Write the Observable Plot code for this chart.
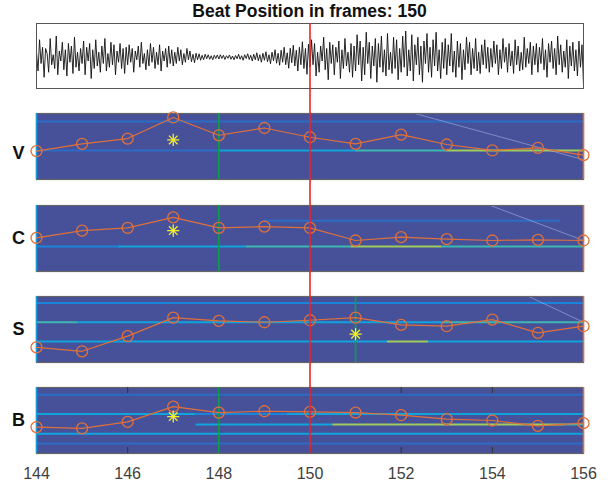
<!DOCTYPE html>
<html><head><meta charset="utf-8">
<script src="https://cdn.jsdelivr.net/npm/d3@7"></script>
<script src="https://cdn.jsdelivr.net/npm/@observablehq/plot@0.6"></script>
<style>
body{margin:0;background:#fff;}
#chart{position:relative;width:611px;height:484px;font-family:"Liberation Sans",Arial,sans-serif;}
#chart svg{position:absolute;left:0;top:0;}
#title{position:absolute;left:36px;width:547px;top:1px;line-height:20px;text-align:center;font-weight:bold;font-size:17.5px;color:#111;font-family:"Liberation Sans",Arial,sans-serif;}
</style></head><body>
<div id="chart"><div id="title"></div></div>
<script>
// ---------- data ----------
const beatFrame = 150;
const frames = [144,145,146,147,148,149,150,151,152,153,154,155,156];
const xTicks = [144,146,148,150,152,154,156];
const panelNames = ["V","C","S","B"];

// audio excerpt (30 samples per frame, 144 -> 156)
const waveform = [
 20,-55,70,-25,40,-80,35,15,-60,75,-30,10,-45,85,-70,25,-15,60,-50,30,-75,55,-20,45,-65,80,-40,20,-55,35,
 -25,65,-70,40,-15,55,-85,30,-45,70,-35,20,-60,45,-25,75,-55,15,-40,60,-30,50,-70,25,-20,55,-45,35,-65,40,
 -30,50,-20,35,-60,25,-10,45,-40,60,-25,15,-50,30,-35,55,-20,40,-45,20,-30,50,-55,25,-15,35,-40,45,-25,30,
 -35,20,-25,40,-15,30,-30,15,-20,35,-10,25,-18,12,-22,16,-10,14,-12,8,-10,12,-6,10,-8,6,-10,8,-5,9,
 -7,10,-5,8,-9,6,-4,9,-8,5,-10,7,-6,12,-8,6,-12,10,-5,14,-9,8,-15,12,-10,18,-14,10,-20,16,
 -12,22,-18,10,-26,20,-14,30,-24,16,-32,28,-20,40,-30,18,-44,36,-22,48,-35,28,-55,40,-30,62,-45,35,-68,52,
 -40,70,-30,55,-75,20,-60,45,-15,80,-50,35,-90,60,-25,50,-70,40,-20,65,-85,30,-45,75,-35,20,-60,55,-80,45,
 -55,90,-30,65,-95,40,-70,100,-25,60,-85,45,-35,75,-100,55,-40,85,-60,30,-75,95,-50,20,-65,80,-45,70,-90,35,
 -60,85,-40,105,-75,30,-55,90,-95,50,-30,80,-70,45,-100,65,-25,95,-60,40,-80,70,-35,100,-55,30,-85,60,-45,75,
 -70,50,-35,95,-60,25,-80,65,-40,55,-90,30,-50,80,-25,60,-70,35,-45,75,-55,20,-65,50,-30,70,-45,40,-60,35,
 -40,65,-25,50,-70,30,-45,75,-20,40,-60,55,-35,25,-65,70,-30,45,-55,20,-50,80,-40,35,-25,60,-70,45,-30,55,
 -60,40,-25,75,-50,30,-80,55,-20,65,-45,35,-70,85,-30,50,-60,25,-40,70,-85,45,-35,60,-55,30,-75,65,-40,50,
 -110
];
const samplesPerFrame = 30;

// novelty curves (normalised, 0 = bottom of panel, 1 = top)
const vValues = [0.43,0.54,0.62,0.94,0.67,0.78,0.64,0.54,0.68,0.53,0.44,0.48,0.37];
const cValues = [0.51,0.62,0.66,0.82,0.66,0.68,0.66,0.47,0.52,0.49,0.47,0.48,0.47];
const sValues = [0.23,0.17,0.40,0.68,0.63,0.61,0.64,0.68,0.57,0.55,0.65,0.45,0.55];
const bValues = [0.40,0.38,0.48,0.71,0.62,0.64,0.63,0.62,0.58,0.52,0.50,0.42,0.46];

// detected peak (asterisk) [frame, value]
const vPeak = [147, 0.60];
const cPeak = [147, 0.62];
const sPeak = [151, 0.43];
const bPeak = [147, 0.56];

// estimated onset (green line)
const vOnset = 148, cOnset = 148, sOnset = 151, bOnset = 148;

// background image rows: [value, fromFrame, toFrame, intensityLevel]
const vBands = [[0.88,144,156,1],[0.44,144,148,1],[0.44,148,151,3],[0.44,151,153,4],[0.44,153,156,5]];
const cBands = [[0.77,149,155.5,1],[0.38,144,145.8,2],[0.38,145.8,148.6,3],[0.38,148.6,150.9,4],[0.38,150.9,152.9,5],[0.38,152.9,156,4]];
const sBands = [[0.90,144,156,2],[0.61,144,144.9,4],[0.61,144.9,152.9,3],[0.61,152.9,156,4],[0.32,144,151.7,3],[0.32,151.7,152.6,5],[0.32,152.6,156,3]];
const bBands = [[0.89,144,156,1],[0.60,144,147.5,3],[0.60,147.5,149.5,2],[0.60,149.5,156,3],[0.44,147.5,150.5,3],[0.44,150.5,155.6,5],[0.44,155.6,156,4],[0.30,144,156,3],[0.15,144,156,1]];

// faint diagonal traces [frame1, value1, frame2, value2]
const vDiag = [152.3,1.0,156,0.30];
const cDiag = [153.96,1.0,156,0.47];
const sDiag = [154.8,1.0,156,0.61];
const bDiag = null;

// ---------- styles ----------
const levelColors = ["#3D5BAA","#2C6CC4","#1A84D8","#10A4DC","#3DB8B0","#A0CC5C"];
const bgColor = "#46519A";
const orange = "#E0703A";
const W = 611, H = 484, ML = 36, MR = 28;
const panelBoxes = [[113,179],[205,271],[296,362],[387,453]];
const waveBox = [23,88];
const labelDy = [7,0,0,0];

const chart = document.getElementById("chart");
document.getElementById("title").textContent = `Beat Position in frames: ${beatFrame}`;

function base(top, bottom, extra) {
  return Object.assign({
    width: W, height: H, marginLeft: ML, marginRight: MR,
    marginTop: top, marginBottom: H - bottom,
    x: {domain: [frames[0], frames[frames.length-1]], axis: null},
    y: {domain: [0, 1], axis: null},
    style: {background: "transparent", overflow: "visible", fontFamily: "Liberation Sans, Arial, sans-serif"}
  }, extra);
}

// waveform panel
chart.appendChild(Plot.plot(base(waveBox[0], waveBox[1], {
  y: {domain: [-125, 135], axis: null},
  marks: [
    Plot.line(waveform, {x: (d, i) => frames[0] + i / samplesPerFrame, y: d => d, stroke: "#111", strokeWidth: 0.9}),
    Plot.frame({stroke: "#555", strokeWidth: 1})
  ]
})));

const panels = [
  {name: panelNames[0], values: vValues, peak: vPeak, onset: vOnset, bands: vBands, diag: vDiag},
  {name: panelNames[1], values: cValues, peak: cPeak, onset: cOnset, bands: cBands, diag: cDiag},
  {name: panelNames[2], values: sValues, peak: sPeak, onset: sOnset, bands: sBands, diag: sDiag},
  {name: panelNames[3], values: bValues, peak: bPeak, onset: bOnset, bands: bBands, diag: bDiag}
];

panels.forEach((p, k) => {
  const [top, bottom] = panelBoxes[k];
  const isLast = k === panels.length - 1;
  const pts = frames.map((f, i) => ({x: f, y: p.values[i]}));
  const marks = [
    Plot.frame({fill: bgColor, stroke: null}),
    Plot.ruleY(p.bands, {y: d => d[0], x1: d => d[1], x2: d => d[2], stroke: d => levelColors[d[3]], strokeWidth: 2})
  ];
  if (p.diag) marks.push(Plot.link([p.diag], {x1: d => d[0], y1: d => d[1], x2: d => d[2], y2: d => d[3], stroke: "#A8BCE8", strokeWidth: 0.8, strokeOpacity: 0.7}));
  marks.push(Plot.frame({stroke: "#666", strokeWidth: 1.2}));
  if (isLast) {
    marks.push(Plot.ruleX(xTicks, {x: d => d, stroke: "#333", insetBottom: 60}));
    marks.push(Plot.ruleX(xTicks, {x: d => d, stroke: "#333", insetTop: 60}));
  }
  marks.push(
    Plot.ruleX([frames[0]], {x: d => d, stroke: "#1A9AD8", strokeWidth: 1.5}),
    Plot.ruleX([frames[frames.length-1]], {x: d => d, stroke: orange, strokeWidth: 1.5}),
    Plot.ruleX([p.onset], {x: d => d, stroke: "#0BA04A", strokeWidth: 1.6}),
    Plot.line(pts, {x: "x", y: "y", stroke: orange, strokeWidth: 1.2}),
    Plot.dot(pts, {x: "x", y: "y", r: 5.5, stroke: orange, strokeWidth: 1.3, fill: "none"}),
    Plot.dot([p.peak], {x: d => d[0], y: d => d[1], symbol: "plus", r: 4, stroke: "#F5F02A", strokeWidth: 1.3}),
    Plot.dot([p.peak], {x: d => d[0], y: d => d[1], symbol: "times", r: 4, stroke: "#F5F02A", strokeWidth: 1.3}),
    Plot.text([p.name], {frameAnchor: "left", textAnchor: "middle", dx: -18, dy: labelDy[k], text: d => d, fontSize: 18, fontWeight: "bold", fill: "#111"})
  );
  const opts = base(top, bottom, {marks});
  if (isLast) {
    opts.x = {domain: [frames[0], frames[frames.length-1]], ticks: xTicks, tickSize: 0, tickPadding: 14, tickFormat: d3.format("d"), label: null};
    opts.style = Object.assign({}, opts.style, {fontSize: "16px", color: "#404040"});
  }
  chart.appendChild(Plot.plot(opts));
});

// beat position line across all panels
chart.appendChild(Plot.plot(base(waveBox[0], panelBoxes[3][1], {
  marks: [Plot.ruleX([beatFrame], {x: d => d, stroke: "#E8252E", strokeWidth: 1.6})]
})));
</script>
</body></html>
